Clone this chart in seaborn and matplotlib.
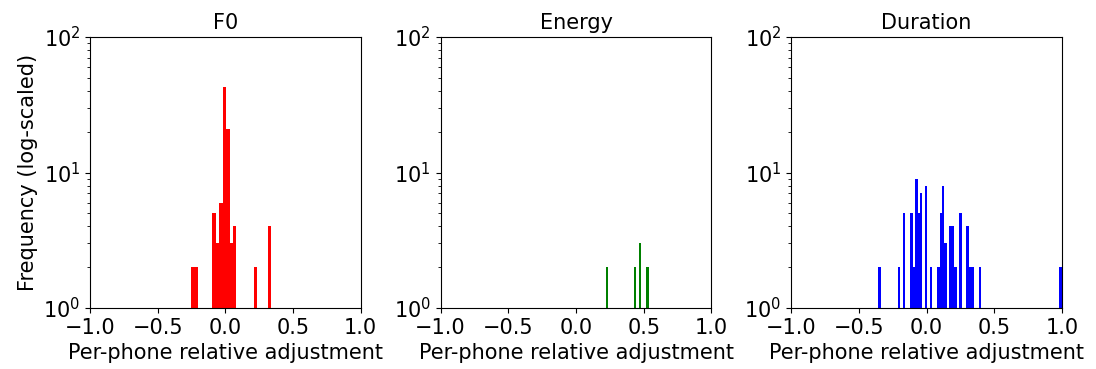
import numpy as np
import pandas as pd
import matplotlib
matplotlib.use("Agg")
import matplotlib.pyplot as plt
import seaborn as sns

# Per-phone relative adjustments: histogram bin centres and their counts
f0_centers = [-0.2378, -0.2122, -0.0842, -0.0586, -0.0330, -0.0074, 0.0182,
              0.0438, 0.0694, 0.2230, 0.3254]
f0_counts = [2, 2, 5, 3, 6, 43, 21, 3, 4, 2, 4]
f0_binwidth = 0.0256

energy_centers = [0.2288, 0.4356, 0.4732, 0.5296]
energy_counts = [2, 2, 3, 2]
energy_binwidth = 0.0188

dur_centers = [-0.3470, -0.2023, -0.1662, -0.1119, -0.0938, -0.0758, -0.0577,
               -0.0396, -0.0034, 0.0327, 0.0870, 0.1050, 0.1231, 0.1412,
               0.1774, 0.1954, 0.2135, 0.2497, 0.3039, 0.3220, 0.3401,
               0.3943, 0.9895]
dur_counts = [2, 2, 5, 5, 2, 9, 5, 7, 8, 2, 2, 5, 8, 3, 4, 4, 2, 5, 4, 2, 2,
              2, 2]
dur_binwidth = 0.01808

titles = ["F0", "Energy", "Duration"]
colors = ["red", "green", "blue"]
x_ticks = [-1.0, -0.5, 0.0, 0.5, 1.0]

panels = [
    (f0_centers, f0_counts, f0_binwidth),
    (energy_centers, energy_counts, energy_binwidth),
    (dur_centers, dur_counts, dur_binwidth),
]

plt.rcParams["font.family"] = ["DejaVu Sans"]
FS = 15

fig, axes = plt.subplots(1, 3, figsize=(10.96, 3.69), dpi=100)
fig.subplots_adjust(left=0.0821, right=0.969, bottom=0.1653, top=0.8997,
                    wspace=0.295)

for ax, (centers, counts, w), title, color in zip(axes, panels, titles, colors):
    df = pd.DataFrame({"value": centers, "count": counts})
    lo = df["value"].min() - w / 2
    hi = df["value"].max() + w / 2
    sns.histplot(data=df, x="value", weights="count", binwidth=w,
                 binrange=(lo, hi), color=color, alpha=1.0, linewidth=0,
                 ax=ax)
    ax.set_yscale("log")
    ax.set_ylim(1, 100)
    ax.set_xlim(-1, 1)
    ax.set_xticks(x_ticks)
    ax.set_title(title, fontsize=FS)
    ax.set_xlabel("Per-phone relative adjustment", fontsize=FS)
    ax.set_ylabel("")
    ax.tick_params(labelsize=FS)

axes[0].set_ylabel("Frequency (log-scaled)", fontsize=FS)

fig.savefig("out.png", dpi=100)
